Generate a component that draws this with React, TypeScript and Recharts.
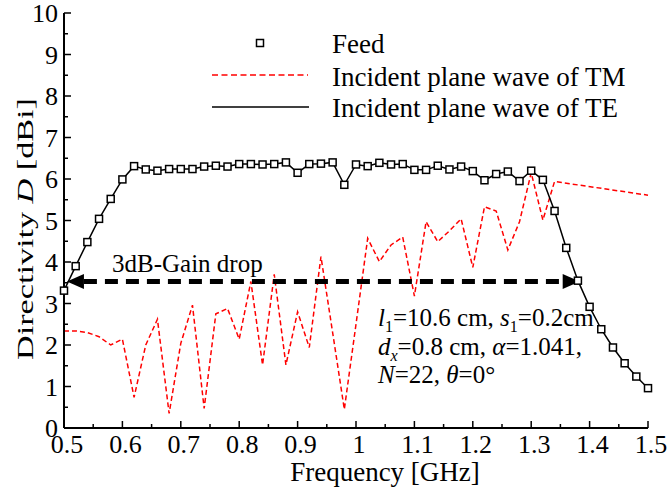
import { ComposedChart, Line, XAxis, YAxis, ReferenceLine } from 'recharts';

// frequency samples (GHz) of the feed / TE curves
const freqs = [
    0.5, 0.52, 0.54, 0.56, 0.58, 0.6, 0.62, 0.64, 0.66, 0.68,
    0.7, 0.72, 0.74, 0.76, 0.78, 0.8, 0.82, 0.84, 0.86, 0.88,
    0.9, 0.92, 0.94, 0.96, 0.98, 1.0, 1.02, 1.04, 1.06, 1.08,
    1.1, 1.12, 1.14, 1.16, 1.18, 1.2, 1.22, 1.24, 1.26, 1.28,
    1.3, 1.32, 1.34, 1.36, 1.38, 1.4, 1.42, 1.44, 1.46, 1.48, 1.5,
];

// directivity with feed excitation (squares)
const feedD = [
    3.31, 3.9, 4.48, 5.04, 5.52, 5.99, 6.31, 6.23, 6.2, 6.24,
    6.24, 6.24, 6.3, 6.32, 6.3, 6.36, 6.36, 6.35, 6.36, 6.4,
    6.15, 6.36, 6.37, 6.4, 5.86, 6.35, 6.31, 6.39, 6.35, 6.36,
    6.22, 6.22, 6.32, 6.23, 6.3, 6.19, 5.97, 6.12, 6.18, 5.95,
    6.2, 5.98, 5.23, 4.34, 3.55, 2.92, 2.38, 1.94, 1.56, 1.24, 0.96,
];

// directivity with TE plane wave incidence (solid line)
const teD = feedD;

// directivity with TM plane wave incidence (red dashed)
const tmFreqs = [
    0.5, 0.52, 0.54, 0.56, 0.58, 0.6, 0.62, 0.64, 0.66, 0.68,
    0.7, 0.72, 0.74, 0.76, 0.78, 0.8, 0.82, 0.84, 0.86, 0.88,
    0.9, 0.92, 0.94, 0.96, 0.98, 1.0, 1.02, 1.04, 1.06, 1.08,
    1.1, 1.12, 1.14, 1.16, 1.18, 1.2, 1.22, 1.24, 1.26, 1.28,
    1.3, 1.32, 1.34, 1.5,
];
const tmD = [
    2.34, 2.34, 2.3, 2.2, 2.0, 2.14, 0.74, 2.0, 2.62, 0.35,
    2.04, 2.96, 0.47, 2.75, 2.88, 2.14, 3.53, 1.52, 3.7, 1.52,
    2.8, 1.94, 4.13, 2.3, 0.45, 2.5, 4.57, 4.01, 4.41, 4.6,
    3.18, 4.97, 4.49, 4.75, 5.04, 3.87, 5.33, 5.23, 4.29, 4.97,
    6.15, 5.01, 5.94, 5.61,
];

// 3dB-gain-drop band ends
const dropBand = [0.505, 1.383];
const dropLevel = 3.53;

const xMajor = [0.5, 0.6, 0.7, 0.8, 0.9, 1.0, 1.1, 1.2, 1.3, 1.4, 1.5];
const xLabels = ['0.5', '0.6', '0.7', '0.8', '0.9', '1', '1.1', '1.2', '1.3', '1.4', '1.5'];
const xMinor = [0.55, 0.65, 0.75, 0.85, 0.95, 1.05, 1.15, 1.25, 1.35, 1.45];
const yMajor = [0, 1, 2, 3, 4, 5, 6, 7, 8, 9, 10];
const yLabels = ['0', '1', '2', '3', '4', '5', '6', '7', '8', '9', '10'];
const yMinor = [0.5, 1.5, 2.5, 3.5, 4.5, 5.5, 6.5, 7.5, 8.5, 9.5];

const FONT = '"Liberation Serif", "Times New Roman", serif';

const feedData = freqs.map((f, i) => ({ f, d: feedD[i] }));
const teData = freqs.map((f, i) => ({ f, d: teD[i] }));
const tmData = tmFreqs.map((f, i) => ({ f, d: tmD[i] }));

const xTicks = [...xMajor, ...xMinor].sort((a, b) => a - b);
const yTicks = [...yMajor, ...yMinor].sort((a, b) => a - b);

const majorIndex = (v: number, list: number[]) => list.findIndex((m) => Math.abs(m - v) < 1e-6);

const BottomTick = ({ x, y, payload }: any) => {
    const i = majorIndex(payload.value, xMajor);
    return (
        <g>
            <line x1={x} y1={y} x2={x} y2={y - (i >= 0 ? 7 : 4)} stroke="#000" strokeWidth={1.5} />
            {i >= 0 && (
                <text x={x + 3} y={y + 25} textAnchor="middle" fontSize={26} fontFamily={FONT} fill="#000">
                    {xLabels[i]}
                </text>
            )}
        </g>
    );
};

const TopTick = ({ x, y, payload }: any) => {
    const i = majorIndex(payload.value, xMajor);
    return <line x1={x} y1={y} x2={x} y2={y + (i >= 0 ? 7 : 4)} stroke="#000" strokeWidth={1.5} />;
};

const LeftTick = ({ x, y, payload }: any) => {
    const i = majorIndex(payload.value, yMajor);
    return (
        <g>
            <line x1={x} y1={y} x2={x + (i >= 0 ? 7 : 4)} y2={y} stroke="#000" strokeWidth={1.5} />
            {i >= 0 && (
                <text x={x - 6} y={y + 9} textAnchor="end" fontSize={26} fontFamily={FONT} fill="#000">
                    {yLabels[i]}
                </text>
            )}
        </g>
    );
};

const RightTick = ({ x, y, payload }: any) => {
    const i = majorIndex(payload.value, yMajor);
    return <line x1={x} y1={y} x2={x - (i >= 0 ? 7 : 4)} y2={y} stroke="#000" strokeWidth={1.5} />;
};

const SquareDot = (props: any) => {
    const { cx, cy, index } = props;
    if (cx == null || cy == null) return <g key={index} />;
    return <rect key={index} x={cx - 3.5} y={cy - 3.5} width={7} height={7} fill="#fff" stroke="#000" strokeWidth={1.5} />;
};

const DropArrow = (props: any) => {
    const { x1, y1, x2, y2 } = props;
    const len = 17;
    const half = 7.5;
    return (
        <g>
            <line x1={x1 + len} y1={y1} x2={x2 - len} y2={y2} stroke="#000" strokeWidth={5} strokeDasharray="13 8" />
            <polygon points={`${x1},${y1} ${x1 + len},${y1 - half} ${x1 + len},${y1 + half}`} fill="#000" />
            <polygon points={`${x2},${y2} ${x2 - len},${y2 - half} ${x2 - len},${y2 + half}`} fill="#000" />
        </g>
    );
};

const App = () => {
    return (
        <div style={{ position: 'absolute', left: 0, top: 0, width: 671, height: 492, background: '#fff' }}>
            <ComposedChart width={671} height={492} data={feedData} margin={{ top: 13, right: 23, left: 0, bottom: 0 }}>
                <XAxis
                    xAxisId="bottom"
                    dataKey="f"
                    type="number"
                    domain={[0.5, 1.5]}
                    ticks={xTicks}
                    interval={0}
                    height={64}
                    tickSize={0}
                    tickMargin={0}
                    tickLine={false}
                    axisLine={{ stroke: '#000', strokeWidth: 2 }}
                    tick={<BottomTick />}
                />
                <XAxis
                    xAxisId="top"
                    orientation="top"
                    dataKey="f"
                    type="number"
                    domain={[0.5, 1.5]}
                    ticks={xTicks}
                    interval={0}
                    height={0}
                    tickSize={0}
                    tickMargin={0}
                    tickLine={false}
                    axisLine={{ stroke: '#000', strokeWidth: 2 }}
                    tick={<TopTick />}
                />
                <YAxis
                    yAxisId="left"
                    type="number"
                    domain={[0, 10]}
                    ticks={yTicks}
                    interval={0}
                    width={64}
                    tickSize={0}
                    tickMargin={0}
                    tickLine={false}
                    axisLine={{ stroke: '#000', strokeWidth: 2 }}
                    tick={<LeftTick />}
                />
                <YAxis
                    yAxisId="right"
                    orientation="right"
                    type="number"
                    domain={[0, 10]}
                    ticks={yTicks}
                    interval={0}
                    width={0}
                    tickSize={0}
                    tickMargin={0}
                    tickLine={false}
                    axisLine={{ stroke: '#000', strokeWidth: 2 }}
                    tick={<RightTick />}
                />
                <Line
                    xAxisId="bottom"
                    yAxisId="left"
                    data={tmData}
                    dataKey="d"
                    type="linear"
                    stroke="#ff0000"
                    strokeWidth={1.5}
                    strokeDasharray="5 3"
                    dot={false}
                    isAnimationActive={false}
                />
                <ReferenceLine
                    xAxisId="bottom"
                    yAxisId="left"
                    segment={[{ x: dropBand[0], y: dropLevel }, { x: dropBand[1], y: dropLevel }]}
                    ifOverflow="visible"
                    shape={DropArrow}
                />
                <Line
                    xAxisId="bottom"
                    yAxisId="left"
                    data={teData}
                    dataKey="d"
                    type="linear"
                    stroke="#000"
                    strokeWidth={1.5}
                    dot={false}
                    isAnimationActive={false}
                />
                <Line
                    xAxisId="bottom"
                    yAxisId="left"
                    data={feedData}
                    dataKey="d"
                    stroke="none"
                    dot={SquareDot}
                    isAnimationActive={false}
                />
            </ComposedChart>

            {/* legend, axis titles and annotations */}
            <svg
                width={671}
                height={492}
                style={{ position: 'absolute', left: 0, top: 0, pointerEvents: 'none' }}
                fontFamily={FONT}
                fill="#000"
            >
                <rect x={256.5} y={39.5} width={7} height={7} fill="#fff" stroke="#000" strokeWidth={1.5} />
                <line x1={212} y1={75} x2={308} y2={75} stroke="#ff0000" strokeWidth={1.5} strokeDasharray="6 3.5" />
                <line x1={212} y1={107} x2={309} y2={107} stroke="#000" strokeWidth={1.5} />
                <text x={332} y={53} fontSize={27}>Feed</text>
                <text x={332} y={86} fontSize={27}>Incident plane wave of TM</text>
                <text x={332} y={117} fontSize={27}>Incident plane wave of TE</text>

                <text x={112} y={272} fontSize={25}>3dB-Gain drop</text>

                <text x={378} y={326} fontSize={25}>
                    <tspan fontStyle="italic">l</tspan>
                    <tspan fontSize={16} dy={6}>1</tspan>
                    <tspan dy={-6}>=10.6 cm, </tspan>
                    <tspan fontStyle="italic">s</tspan>
                    <tspan fontSize={16} dy={6}>1</tspan>
                    <tspan dy={-6}>=0.2cm</tspan>
                </text>
                <text x={378} y={355} fontSize={25}>
                    <tspan fontStyle="italic">d</tspan>
                    <tspan fontSize={16} dy={6} fontStyle="italic">x</tspan>
                    <tspan dy={-6}>=0.8 cm, </tspan>
                    <tspan fontStyle="italic">α</tspan>
                    <tspan>=1.041,</tspan>
                </text>
                <text x={378} y={383} fontSize={25}>
                    <tspan fontStyle="italic">N</tspan>
                    <tspan>=22, </tspan>
                    <tspan fontStyle="italic">θ</tspan>
                    <tspan>=0°</tspan>
                </text>

                <text x={385} y={481} fontSize={27} textAnchor="middle">Frequency [GHz]</text>
                <text
                    transform="translate(33,229) rotate(-90)"
                    fontSize={24}
                    textAnchor="middle"
                    textLength={262}
                    lengthAdjust="spacingAndGlyphs"
                >
                    Directivity <tspan fontStyle="italic">D</tspan> [dBi]
                </text>
            </svg>
        </div>
    );
};

export default App;
